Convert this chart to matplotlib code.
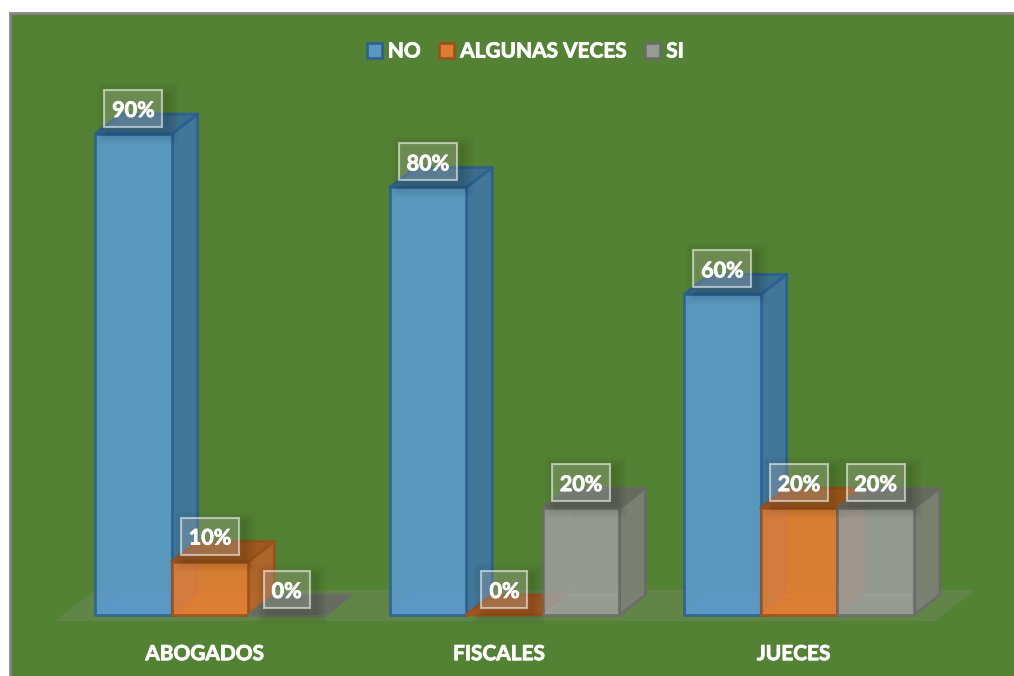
import numpy as np
import matplotlib
matplotlib.use('Agg')
import matplotlib.pyplot as plt
import matplotlib.patheffects as pe
from matplotlib.patches import Polygon, Patch, Rectangle

plt.rcParams['font.family'] = ['Lato', 'DejaVu Sans']

categories = ['ABOGADOS', 'FISCALES', 'JUECES']
series_names = ['NO', 'ALGUNAS VECES', 'SI']
no_vals = [90, 80, 60]
algunas_vals = [10, 0, 20]
si_vals = [0, 20, 20]

# front, side, top, edge
blue = ('#5B9BD5', '#41779F', '#3A6C96', '#2A5F90')
orange = ('#ED7D31', '#B5652A', '#A9561C', '#9C4F18')
gray = ('#9E9F9D', '#7B8074', '#666A60', '#686A66')

W, H = 1014, 676
PANEL_L, PANEL_T = 10, 13
BASE = 615
PX_Y = 481 / 90.          # pixels per percent
PX_X = 294.5              # pixels per group
X0 = 210                  # pixel of first group centre
BAR_W = 76.6 / PX_X
DX = 26 / PX_X            # 3d depth
DY = 20 / PX_Y
BOLD = [pe.withStroke(linewidth=0.6, foreground='white')]

fig = plt.figure(figsize=(W / 100, H / 100), dpi=100, facecolor='white')
# panel runs past the right and bottom edges, only left and top border show
fig.patches.append(Rectangle((PANEL_L / W, -0.02), 1.02, 1.02 - PANEL_T / H,
                             transform=fig.transFigure, fc='#548235', ec='#858585', lw=2,
                             zorder=-1))

ax = fig.add_axes([PANEL_L / W, (H - BASE) / H, 1 - PANEL_L / W, (BASE - PANEL_T) / H])
ax.patch.set_alpha(0)
ax.set_xlim((PANEL_L - X0) / PX_X, (W - X0) / PX_X)
ax.set_ylim(0, (BASE - PANEL_T) / PX_Y)
for s in ax.spines.values():
    s.set_visible(False)
ax.set_yticks([])
ax.set_xticks(np.arange(3) - 5.5 / PX_X)
ax.set_xticklabels(categories, fontsize=15, fontweight='bold', color='white', path_effects=BOLD)
ax.tick_params(axis='x', length=0, pad=21)


def poly(pts, fc, ec, alpha, z, lw=2):
    ax.add_patch(Polygon(pts, closed=True, fc=matplotlib.colors.to_rgba(fc, alpha),
                         ec=matplotlib.colors.to_rgba(ec, 0.85), lw=lw, joinstyle='round',
                         clip_on=False, zorder=z))


def bar3d(x, h, col, z):
    front, side, top, edge = col
    # floor and back edges, seen through the front
    poly([(x, 0), (x + DX, DY), (x + BAR_W + DX, DY), (x + BAR_W, 0)], front, front, 0.2, z, 1)
    if h > 0:
        ax.plot([x + DX, x + DX], [DY, h + DY], color=front, lw=1, alpha=0.5, zorder=z)
    poly([(x + BAR_W, 0), (x + BAR_W + DX, DY), (x + BAR_W + DX, h + DY), (x + BAR_W, h)],
         side, edge, 0.95, z + 0.1)
    poly([(x, h), (x + DX, h + DY), (x + BAR_W + DX, h + DY), (x + BAR_W, h)],
         top, edge, 0.9, z + 0.2)
    if h > 0:
        poly([(x, 0), (x, h), (x + BAR_W, h), (x + BAR_W, 0)], front, edge, 0.85, z + 0.3)


# floor band
ax.add_patch(Polygon([(-155 / PX_X, -6 / PX_Y), (-115 / PX_X, 25 / PX_Y),
                     (765 / PX_X, 25 / PX_Y), (725 / PX_X, -6 / PX_Y)],
                     closed=True, fc='#7F8F6F', alpha=0.3, ec='none', clip_on=False, zorder=1))

labels = []
for i in range(3):
    left = i - 1.5 * BAR_W
    vals = [no_vals[i], algunas_vals[i], si_vals[i]]
    for j, (v, col) in enumerate(zip(vals, [blue, orange, gray])):
        x = left + j * BAR_W
        bar3d(x, v, col, 2 + j)
        labels.append((x + BAR_W / 2, v))

for x, v in labels:
    y = v + 25.5 / PX_Y
    # soft shadow behind the label box
    box_w = (46 if v == 0 else 58) / PX_X
    box_h = 37 / PX_Y
    for k in [12, 10, 8, 6, 4, 2]:
        ax.add_patch(Rectangle((x - box_w / 2 + (5 - k) / PX_X, y - box_h / 2 - (5 + k) / PX_Y),
                               box_w + 2 * k / PX_X, box_h + 2 * k / PX_Y,
                               fc='black', ec='none', alpha=0.025, zorder=7, clip_on=False))
    ax.add_patch(Rectangle((x - box_w / 2, y - box_h / 2), box_w, box_h, fc=(1, 1, 1, 0.2),
                           ec=(1, 1, 1, 0.55), lw=1.5, zorder=7.5, clip_on=False))
    ax.text(x, y - 2 / PX_Y, '%d%%' % v, ha='center', va='center', fontsize=15.5, fontweight='bold',
            color='white', zorder=8, clip_on=False, path_effects=BOLD)

handles = [Patch(fc=c[0], ec=c[3], lw=2, alpha=0.9) for c in (blue, orange, gray)]
leg = fig.legend(handles, series_names, loc='center', bbox_to_anchor=(525.5 / W, 1 - 51.5 / H), ncol=3,
                 frameon=False, labelcolor='white', handlelength=0.7, handleheight=0.7,
                 handletextpad=0.3, columnspacing=0.9, prop={'weight': 'bold', 'size': 15})
for t in leg.get_texts():
    t.set_path_effects(BOLD)

fig.savefig('out.png', dpi=100, facecolor=fig.get_facecolor())
